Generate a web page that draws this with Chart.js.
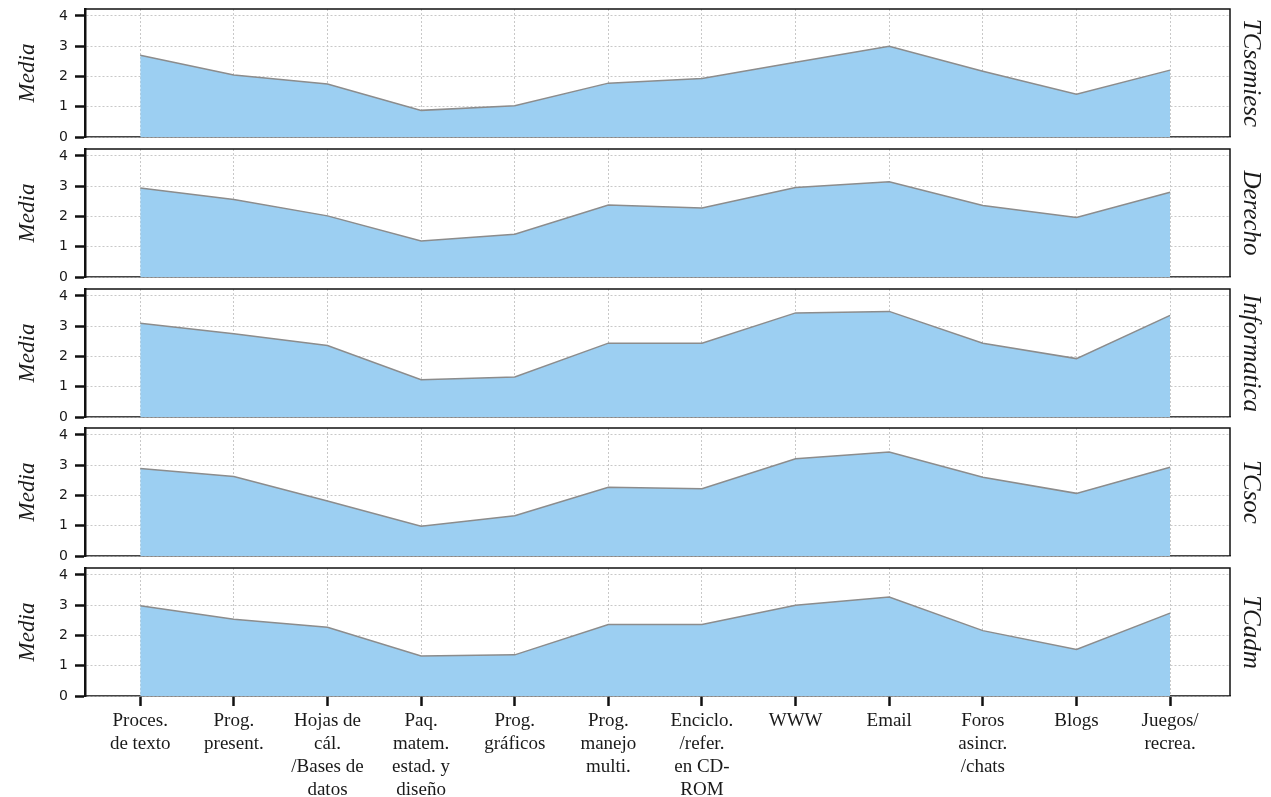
<!DOCTYPE html>
<html>
<head>
<meta charset="utf-8">
<script src="https://cdn.jsdelivr.net/npm/chart.js@4/dist/chart.umd.min.js"></script>
<style>
html,body{margin:0;padding:0;background:#fff;}
#wrap{position:relative;width:1271px;height:797px;overflow:hidden;background:#fff;}
canvas{position:absolute;left:0;}
</style>
</head>
<body>
<div id="wrap"></div>
<script>
// ---- data ----
const categories = [
  ['Proces.','de texto'],
  ['Prog.','present.'],
  ['Hojas de','cál.','/Bases de','datos'],
  ['Paq.','matem.','estad. y','diseño'],
  ['Prog.','gráficos'],
  ['Prog.','manejo','multi.'],
  ['Enciclo.','/refer.','en CD-','ROM'],
  ['WWW'],
  ['Email'],
  ['Foros','asincr.','/chats'],
  ['Blogs'],
  ['Juegos/','recrea.']
];
const panelNames = ['TCsemiesc','Derecho','Informatica','TCsoc','TCadm'];
const tcsemiesc   = [2.70, 2.05, 1.75, 0.88, 1.03, 1.78, 1.93, 2.47, 3.00, 2.17, 1.41, 2.21];
const derecho     = [2.94, 2.56, 2.02, 1.19, 1.41, 2.38, 2.28, 2.96, 3.15, 2.36, 1.97, 2.80];
const informatica = [3.10, 2.75, 2.36, 1.23, 1.32, 2.44, 2.44, 3.44, 3.49, 2.44, 1.93, 3.36];
const tcsoc       = [2.89, 2.63, 1.82, 0.98, 1.33, 2.27, 2.22, 3.21, 3.44, 2.60, 2.07, 2.93];
const tcadm       = [2.98, 2.54, 2.27, 1.32, 1.36, 2.36, 2.36, 3.00, 3.27, 2.16, 1.54, 2.74];
const yTicks = [0, 1, 2, 3, 4];
const seriesList = [tcsemiesc, derecho, informatica, tcsoc, tcadm];

// ---- layout ----
const W = 1271, PITCH = 139.75;
const wrap = document.getElementById('wrap');

const framePlugin = {
  id: 'frame',
  afterDraw(chart) {
    const a = chart.chartArea, ctx = chart.ctx;
    ctx.save();
    ctx.strokeStyle = '#111';
    ctx.lineWidth = 1.5;
    ctx.beginPath();
    ctx.moveTo(a.left, a.top); ctx.lineTo(a.right, a.top); ctx.lineTo(a.right, a.bottom);
    ctx.stroke();
    ctx.restore();
  }
};

seriesList.forEach((vals, i) => {
  const last = i === seriesList.length - 1;
  const top = Math.round(PITCH * i);
  const h = last ? 797 - top : 152;
  const cv = document.createElement('canvas');
  cv.width = W; cv.height = h;
  cv.style.top = top + 'px';
  cv.style.width = W + 'px'; cv.style.height = h + 'px';
  wrap.appendChild(cv);

  const gridCommon = {
    color: '#c8c8c8',
    lineWidth: 1,
    tickLength: 10,
    tickColor: '#111',
    tickWidth: 2.5,
    tickBorderDash: []
  };

  new Chart(cv, {
    type: 'line',
    data: {
      datasets: [{
        data: vals.map((v, k) => ({x: k, y: v})),
        fill: 'origin',
        backgroundColor: '#9ccff2',
        borderColor: '#8c8c8c',
        borderWidth: 1.5,
        pointRadius: 0,
        tension: 0
      }]
    },
    options: {
      responsive: false,
      animation: false,
      devicePixelRatio: 1,
      layout: {padding: {top: 9, left: 0, right: 0, bottom: 0}},
      plugins: {legend: {display: false}, tooltip: {enabled: false}},
      scales: {
        x: {
          type: 'linear',
          min: -0.59, max: 11.64,
          afterFit(s) { s.height = h - 137; s.paddingLeft = 0; s.paddingRight = 0; },
          ticks: {
            display: last,
            stepSize: 1,
            includeBounds: false,
            autoSkip: false,
            maxRotation: 0,
            padding: 4,
            color: '#1a1a1a',
            font: {family: '"Liberation Serif", "Times New Roman", serif', size: 19, lineHeight: 1.2},
            callback: (v) => (Number.isInteger(v) && categories[v]) ? categories[v] : ''
          },
          grid: Object.assign({drawTicks: last}, gridCommon),
          border: {display: true, color: '#444', width: 1.5, dash: [2, 2]}
        },
        y: {
          position: 'left',
          min: 0, max: 4.23,
          afterFit(s) { s.width = 85; s.paddingTop = 0; s.paddingBottom = 0; },
          afterBuildTicks(s) { s.ticks = yTicks.map(v => ({value: v})); },
          ticks: {
            color: '#1a1a1a',
            padding: 7,
            font: {family: '"DejaVu Sans", Verdana, sans-serif', size: 14}
          },
          grid: Object.assign({drawTicks: true}, gridCommon),
          border: {display: true, color: '#111', width: 2.5, dash: [2, 2]},
          title: {
            display: true,
            text: 'Media',
            color: '#1a1a1a',
            padding: {top: 14, bottom: 0},
            font: {family: '"Liberation Serif", "Times New Roman", serif', size: 23, style: 'italic'}
          }
        },
        yr: {
          position: 'right',
          min: 0, max: 4.23,
          afterFit(s) { s.width = 41; s.paddingTop = 0; s.paddingBottom = 0; },
          ticks: {display: false},
          grid: {display: false, drawTicks: false},
          border: {display: false},
          title: {
            display: true,
            text: panelNames[i],
            color: '#1a1a1a',
            padding: {top: 5, bottom: 0},
            font: {family: '"Liberation Serif", "Times New Roman", serif', size: 25, style: 'italic'}
          }
        }
      }
    },
    plugins: [framePlugin]
  });
});
</script>
</body>
</html>
